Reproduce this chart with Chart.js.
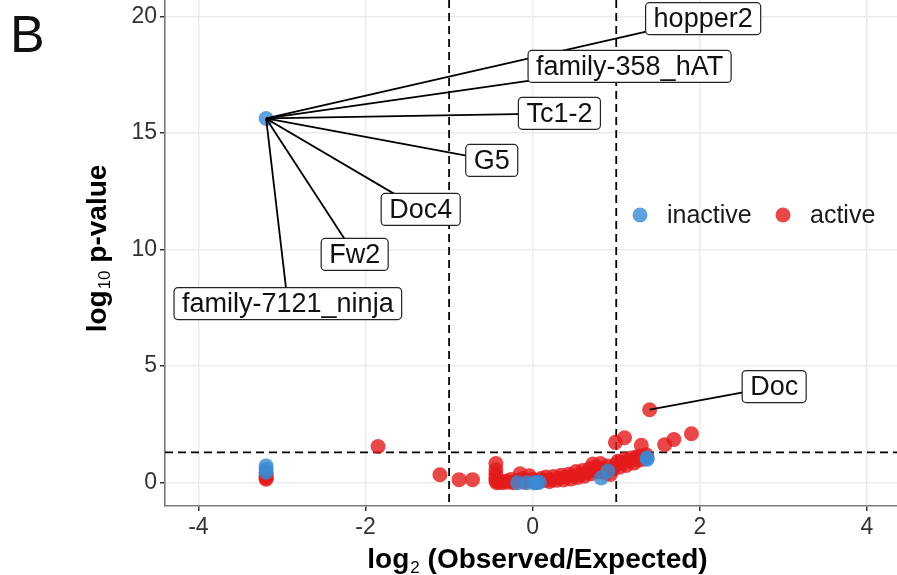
<!DOCTYPE html>
<html>
<head>
<meta charset="utf-8">
<script src="https://cdn.jsdelivr.net/npm/chart.js@4/dist/chart.umd.min.js"></script>
<style>
  html, body { margin: 0; padding: 0; background: #fff; }
  #wrap { position: relative; width: 897px; height: 575px; }
</style>
</head>
<body>
<div id="wrap"><canvas id="c" width="897" height="575"></canvas></div>
<script>
// Enrichment of TE families: log2(observed/expected) vs log10 p-value
const groups = ['inactive', 'active'];

const inactiveX = [-3.19, -3.19, -3.19, -3.19, -0.18, -0.07, 0.02, 0.05, 0.08, 0.82, 0.90, 1.37, 1.37];
const inactiveY = [15.62, 0.72, 0.58, 0.45, 0.00, 0.00, 0.00, 0.00, 0.02, 0.20, 0.50, 1.07, 1.00];

const activeX = [
  -3.19, -3.19, -3.19, -3.19, -1.85, -1.11, -0.88, -0.72,
  -0.44, -0.44, -0.44, -0.44, -0.44, -0.43, -0.40, -0.36, -0.32, -0.28, -0.26, -0.22,
  -0.18, -0.15, -0.12, -0.10, -0.05, -0.04, 0.00, 0.03, 0.08, 0.10, 0.14, 0.16, 0.20,
  0.22, 0.25, 0.28, 0.31, 0.34, 0.37, 0.40, 0.43, 0.46, 0.48, 0.52, 0.54, 0.57, 0.60,
  0.62, 0.65, 0.68, 0.70, 0.72, 0.74, 0.76, 0.79, 0.81, 0.84, 0.87, 0.90, 0.93, 0.96,
  0.99, 1.02, 1.04, 1.07, 1.10, 1.12, 1.15, 1.18, 1.21, 1.24, 1.27, 1.30, 1.33, 1.36,
  0.99, 1.10, 1.30, 1.58, 1.69, 1.90, 1.40
];
const activeY = [
  0.38, 0.28, 0.20, 0.15, 1.55, 0.34, 0.13, 0.13,
  0.82, 0.55, 0.35, 0.20, 0.08, 0.00, 0.03, 0.00, 0.06, 0.02, 0.14, 0.00,
  0.08, 0.38, 0.18, 0.02, 0.10, 0.30, 0.14, 0.02, 0.06, 0.18, 0.10, 0.24, 0.05,
  0.14, 0.26, 0.10, 0.20, 0.32, 0.12, 0.24, 0.36, 0.16, 0.30, 0.48, 0.22, 0.36, 0.52,
  0.28, 0.42, 0.60, 0.38, 0.80, 0.52, 0.66, 0.46, 0.82, 0.60, 0.40, 0.72, 0.35, 0.58,
  0.76, 0.92, 0.66, 0.86, 1.00, 0.74, 0.94, 1.06, 0.84, 1.10, 0.96, 1.16, 1.02, 1.20,
  1.73, 1.93, 1.60, 1.63, 1.85, 2.10, 3.13
];

const xTicks = [-4, -2, 0, 2, 4];
const yTicks = [0, 5, 10, 15, 20];
const foldCutoffs = [-1, 1];
const pCutoff = 1.3;

// Labelled families: name, group, index of the point in that group
const labelNames  = ['hopper2', 'family-358_hAT', 'Tc1-2', 'G5', 'Doc4', 'Fw2', 'family-7121_ninja', 'Doc'];
const labelGroup  = ['inactive', 'inactive', 'inactive', 'inactive', 'inactive', 'inactive', 'inactive', 'active'];
const labelIndex  = [0, 0, 0, 0, 0, 0, 0, activeX.length - 1];

// Where each repelled label box sits (data units)
const labelBoxAt = {
  'hopper2':           [2.04, 19.90],
  'family-358_hAT':    [1.16, 17.85],
  'Tc1-2':             [0.32, 15.84],
  'G5':                [-0.49, 13.82],
  'Doc4':              [-1.34, 11.72],
  'Fw2':               [-2.13, 9.79],
  'family-7121_ninja': [-2.93, 7.68],
  'Doc':               [2.89, 4.12]
};

const FONT = '"Liberation Sans", Arial, Helvetica, sans-serif';
const colours = {
  inactive: 'rgba(58,138,210,0.8)',
  active: 'rgba(228,26,28,0.8)'
};

const toPoints = (xs, ys) => xs.map((x, i) => ({ x: x, y: ys[i] }));
const seriesX = { inactive: inactiveX, active: activeX };
const seriesY = { inactive: inactiveY, active: activeY };

function roundRect(ctx, x, y, w, h, r) {
  ctx.beginPath();
  ctx.moveTo(x + r, y);
  ctx.lineTo(x + w - r, y);
  ctx.arcTo(x + w, y, x + w, y + r, r);
  ctx.lineTo(x + w, y + h - r);
  ctx.arcTo(x + w, y + h, x + w - r, y + h, r);
  ctx.lineTo(x + r, y + h);
  ctx.arcTo(x, y + h, x, y + h - r, r);
  ctx.lineTo(x, y + r);
  ctx.arcTo(x, y, x + r, y, r);
  ctx.closePath();
}

// Dashed significance / fold-change cut-offs, under the points
const cutoffLines = {
  id: 'cutoffLines',
  beforeDatasetsDraw(chart) {
    const { ctx, chartArea: a, scales: { x, y } } = chart;
    ctx.save();
    ctx.strokeStyle = '#000';
    ctx.lineWidth = 1.8;
    ctx.setLineDash([8, 5]);
    foldCutoffs.forEach(v => {
      const px = x.getPixelForValue(v);
      ctx.beginPath(); ctx.moveTo(px, a.top); ctx.lineTo(px, a.bottom); ctx.stroke();
    });
    const py = y.getPixelForValue(pCutoff);
    ctx.beginPath(); ctx.moveTo(a.left, py); ctx.lineTo(a.right, py); ctx.stroke();
    ctx.restore();
  }
};

// Leader segments and boxed labels
const repelLabels = {
  id: 'repelLabels',
  afterDatasetsDraw(chart) {
    const { ctx, scales: { x, y } } = chart;
    ctx.save();
    ctx.font = '27px ' + FONT;
    ctx.textBaseline = 'middle';
    ctx.textAlign = 'center';
    labelNames.forEach((name, i) => {
      const g = labelGroup[i], k = labelIndex[i];
      const px = x.getPixelForValue(seriesX[g][k]);
      const py = y.getPixelForValue(seriesY[g][k]);
      const bx = x.getPixelForValue(labelBoxAt[name][0]);
      const by = y.getPixelForValue(labelBoxAt[name][1]);
      ctx.strokeStyle = '#000';
      ctx.lineWidth = 1.8;
      ctx.setLineDash([]);
      ctx.beginPath(); ctx.moveTo(px, py); ctx.lineTo(bx, by); ctx.stroke();
    });
    labelNames.forEach(name => {
      const bx = x.getPixelForValue(labelBoxAt[name][0]);
      const by = y.getPixelForValue(labelBoxAt[name][1]);
      const w = ctx.measureText(name).width + 16;
      const h = 32;
      roundRect(ctx, bx - w / 2, by - h / 2, w, h, 4);
      ctx.fillStyle = '#fff';
      ctx.fill();
      ctx.lineWidth = 1.2;
      ctx.strokeStyle = '#222';
      ctx.stroke();
      ctx.fillStyle = '#111';
      ctx.fillText(name, bx, by + 1);
    });
    ctx.restore();
  }
};

// Axis titles with subscripts, panel tag and in-panel legend
const decorations = {
  id: 'decorations',
  afterDraw(chart) {
    const { ctx } = chart;
    ctx.save();
    ctx.fillStyle = '#000';
    ctx.textBaseline = 'alphabetic';
    ctx.textAlign = 'left';

    const bold = 'bold 28px ' + FONT, sub = '17px ' + FONT;
    const titleParts = (a, s, b) => {
      ctx.font = bold; const wa = ctx.measureText(a).width;
      ctx.font = sub;  const ws = ctx.measureText(s).width;
      ctx.font = bold; const wb = ctx.measureText(b).width;
      return [wa, ws, wb];
    };

    // x title
    let [wa, ws, wb] = titleParts('log', '2', ' (Observed/Expected)');
    let x0 = 537 - (wa + ws + wb) / 2;
    ctx.font = bold; ctx.fillText('log', x0, 568);
    ctx.font = sub;  ctx.fillText('2', x0 + wa + 1, 573);
    ctx.font = bold; ctx.fillText(' (Observed/Expected)', x0 + wa + ws + 1, 568);

    // y title
    [wa, ws, wb] = titleParts('log', '10', ' p-value');
    ctx.translate(106, 249);
    ctx.rotate(-Math.PI / 2);
    x0 = -(wa + ws + wb) / 2;
    ctx.font = bold; ctx.fillText('log', x0, 0);
    ctx.font = sub;  ctx.fillText('10', x0 + wa + 1, 4);
    ctx.font = bold; ctx.fillText(' p-value', x0 + wa + ws + 1, 0);
    ctx.setTransform(1, 0, 0, 1, 0, 0);

    // panel tag
    ctx.font = '52px ' + FONT;
    ctx.fillStyle = '#111';
    ctx.fillText('B', 10, 52);

    // legend
    const legendX = [640, 783];
    ctx.font = '25px ' + FONT;
    ctx.textBaseline = 'middle';
    groups.forEach((g, i) => {
      ctx.beginPath();
      ctx.arc(legendX[i], 215, 7.5, 0, Math.PI * 2);
      ctx.fillStyle = colours[g];
      ctx.fill();
      ctx.fillStyle = '#1a1a1a';
      ctx.fillText(g, legendX[i] + 27, 216);
    });
    ctx.restore();
  }
};

// Panel fills the canvas up to the top and right edges
const noEdgePadding = s => {
  s.paddingTop = 0; s.paddingBottom = 0; s.paddingLeft = 0; s.paddingRight = 0;
};

const axisCommon = {
  type: 'linear',
  grid: { color: '#ebebeb', lineWidth: 1.5, tickColor: '#333', tickLength: 5, drawTicks: true },
  border: { display: true, color: '#7a7a7a', width: 1.6 },
  ticks: { color: '#333', font: { family: FONT, size: 23 }, padding: 3 }
};

new Chart(document.getElementById('c'), {
  type: 'scatter',
  data: {
    datasets: [
      { label: groups[0], data: toPoints(inactiveX, inactiveY), backgroundColor: colours.inactive,
        borderWidth: 0, pointRadius: 7.5, pointHoverRadius: 7.5 },
      { label: groups[1], data: toPoints(activeX, activeY), backgroundColor: colours.active,
        borderWidth: 0, pointRadius: 7.5, pointHoverRadius: 7.5 }
    ]
  },
  options: {
    responsive: false,
    animation: false,
    layout: { padding: 0, autoPadding: false },
    plugins: { legend: { display: false }, tooltip: { enabled: false } },
    scales: {
      x: Object.assign({}, axisCommon, {
        min: -4.4, max: 4.36,
        afterBuildTicks: s => { s.ticks = xTicks.map(v => ({ value: v })); },
        afterFit: s => { s.height = 69; noEdgePadding(s); }
      }),
      y: Object.assign({}, axisCommon, {
        min: -1, max: 20.7,
        afterBuildTicks: s => { s.ticks = yTicks.map(v => ({ value: v })); },
        afterFit: s => { s.width = 165; noEdgePadding(s); }
      })
    }
  },
  plugins: [cutoffLines, repelLabels, decorations]
});
</script>
</body>
</html>
